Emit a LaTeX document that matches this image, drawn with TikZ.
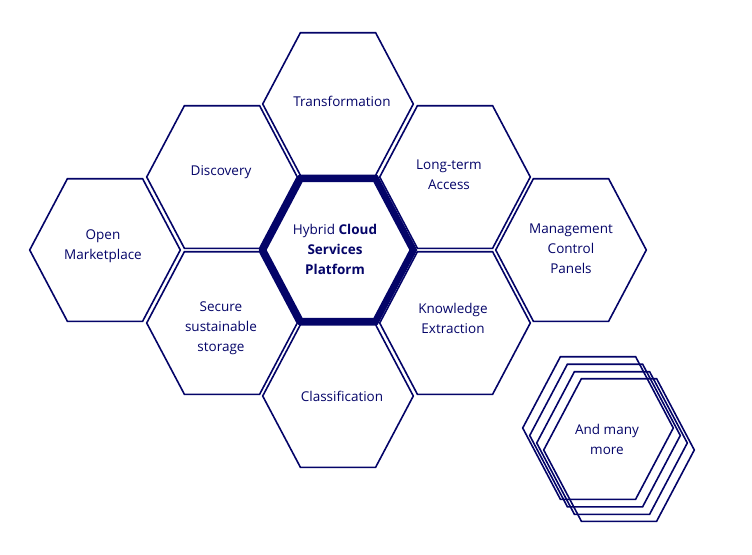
\documentclass[tikz,border=0pt]{standalone}
\usepackage{fontspec}
\setmainfont{Open Sans}
\definecolor{navy}{RGB}{4,4,104}
\tikzset{
  hexline/.style={draw=navy, line width=1.6pt, line join=miter},
  hexbold/.style={draw=navy, line width=7pt, line join=miter},
  lbl/.style={text=navy, align=center, font=\fontsize{13.5}{20}\selectfont, inner sep=0pt},
}
\newcommand\hexagon[2][]{\path[hexline,#1,shift={(#2)}] (-75.3,0) -- (-37.6,-71.3) -- (37.6,-71.3) -- (75.3,0) -- (37.6,71.3) -- (-37.6,71.3) -- cycle;}
\begin{document}
\begin{tikzpicture}[x=1pt,y=-1pt]
\useasboundingbox (0,0) rectangle (752,554);
% hexagon centres
\coordinate (cT) at (338,104);
\coordinate (cD) at (222,177);
\coordinate (cL) at (455,177);
\coordinate (cO) at (105,250);
\coordinate (cC) at (338,250);
\coordinate (cM) at (571,250);
\coordinate (cS) at (222,323);
\coordinate (cK) at (455,323);
\coordinate (cCl) at (338,396);
\coordinate (m1) at (598,428);
\coordinate (m2) at (605,435.5);
\coordinate (m3) at (612,443);
\coordinate (m4) at (619,450);
% hexagons
\hexagon{cT}
\hexagon{cD}
\hexagon{cL}
\hexagon{cO}
\hexagon{cM}
\hexagon{cS}
\hexagon{cK}
\hexagon{cCl}
\hexagon[hexbold]{cC}
\hexagon{m1}
\hexagon{m2}
\hexagon{m3}
\hexagon{m4}
% labels
\node[lbl] (tT) at (342,101) {Transformation};
\node[lbl] (tD) at (221,172) {Discovery};
\node[lbl] (tL) at (449,175) {Long-term\\Access};
\node[lbl] (tO) at (103,246) {Open\\Marketplace};
\node[lbl] (tC) at (335,249) {Hybrid \textbf{Cloud}\\\textbf{Services}\\\textbf{Platform}};
\node[lbl] (tM) at (571,249) {Management\\Control\\Panels};
\node[lbl] (tS) at (221,328) {Secure\\sustainable\\storage};
\node[lbl] (tK) at (453,318) {Knowledge\\Extraction};
\node[lbl] (tCl) at (342,396) {Classification};
\node[lbl] (tA) at (607,439) {And many\\more};
\end{tikzpicture}
\end{document}
